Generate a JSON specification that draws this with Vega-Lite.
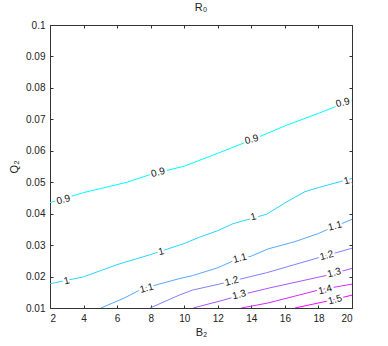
{
  "$schema": "https://vega.github.io/schema/vega-lite/v6.json",
  "width": 302,
  "height": 283,
  "autosize": "none",
  "padding": {"left": 50, "top": 25, "right": 36, "bottom": 38},
  "title": {"text": "R₀", "fontSize": 11, "font": "Liberation Sans", "fontWeight": "normal", "offset": 7, "color": "#222"},
  "config": {
    "font": "Liberation Sans",
    "view": {"stroke": "#333", "strokeWidth": 1},
    "axis": {"grid": false, "domain": false, "tickColor": "#333", "tickSize": -3, "labelColor": "#222", "labelFontSize": 10, "titleFontSize": 11, "titleFontWeight": "normal", "titleColor": "#222", "labelFont": "Liberation Sans", "titleFont": "Liberation Sans"}
  },
  "datasets": {
    "lines": [
      {"lvl": "0.9", "x": 2, "y": 0.0435}, {"lvl": "0.9", "x": 4, "y": 0.0467}, {"lvl": "0.9", "x": 6.6, "y": 0.0500}, {"lvl": "0.9", "x": 8, "y": 0.0525}, {"lvl": "0.9", "x": 10, "y": 0.0551}, {"lvl": "0.9", "x": 12, "y": 0.0592}, {"lvl": "0.9", "x": 14, "y": 0.0634}, {"lvl": "0.9", "x": 16, "y": 0.0679}, {"lvl": "0.9", "x": 18, "y": 0.0719}, {"lvl": "0.9", "x": 20, "y": 0.0761},
      {"lvl": "1", "x": 2, "y": 0.0177}, {"lvl": "1", "x": 4, "y": 0.0199}, {"lvl": "1", "x": 6, "y": 0.0238}, {"lvl": "1", "x": 8, "y": 0.0270}, {"lvl": "1", "x": 10, "y": 0.0305}, {"lvl": "1", "x": 10.9, "y": 0.0325}, {"lvl": "1", "x": 12, "y": 0.0346}, {"lvl": "1", "x": 12.9, "y": 0.0368}, {"lvl": "1", "x": 14.9, "y": 0.0398}, {"lvl": "1", "x": 16, "y": 0.0434}, {"lvl": "1", "x": 17.2, "y": 0.0470}, {"lvl": "1", "x": 18, "y": 0.0483}, {"lvl": "1", "x": 20, "y": 0.0512},
      {"lvl": "1.1", "x": 5.04, "y": 0.0100}, {"lvl": "1.1", "x": 6, "y": 0.0122}, {"lvl": "1.1", "x": 6.4, "y": 0.0131}, {"lvl": "1.1", "x": 7.46, "y": 0.0160}, {"lvl": "1.1", "x": 8.16, "y": 0.0171}, {"lvl": "1.1", "x": 9.75, "y": 0.0194}, {"lvl": "1.1", "x": 10.5, "y": 0.0203}, {"lvl": "1.1", "x": 12, "y": 0.0228}, {"lvl": "1.1", "x": 12.93, "y": 0.0250}, {"lvl": "1.1", "x": 14, "y": 0.0265}, {"lvl": "1.1", "x": 15, "y": 0.0288}, {"lvl": "1.1", "x": 16.6, "y": 0.0311}, {"lvl": "1.1", "x": 18, "y": 0.0337}, {"lvl": "1.1", "x": 18.6, "y": 0.0351}, {"lvl": "1.1", "x": 20, "y": 0.0382},
      {"lvl": "1.2", "x": 7.96, "y": 0.0100}, {"lvl": "1.2", "x": 9.75, "y": 0.0142}, {"lvl": "1.2", "x": 10.5, "y": 0.0157}, {"lvl": "1.2", "x": 12.33, "y": 0.0179}, {"lvl": "1.2", "x": 13.5, "y": 0.0194}, {"lvl": "1.2", "x": 14.9, "y": 0.0212}, {"lvl": "1.2", "x": 18, "y": 0.0260}, {"lvl": "1.2", "x": 20, "y": 0.0290},
      {"lvl": "1.3", "x": 10.54, "y": 0.0100}, {"lvl": "1.3", "x": 12.33, "y": 0.0125}, {"lvl": "1.3", "x": 13.7, "y": 0.0146}, {"lvl": "1.3", "x": 15.1, "y": 0.0164}, {"lvl": "1.3", "x": 18.6, "y": 0.0205}, {"lvl": "1.3", "x": 20, "y": 0.0226},
      {"lvl": "1.4", "x": 13.4, "y": 0.0100}, {"lvl": "1.4", "x": 15, "y": 0.0116}, {"lvl": "1.4", "x": 18, "y": 0.0157}, {"lvl": "1.4", "x": 20, "y": 0.0176},
      {"lvl": "1.5", "x": 16.6, "y": 0.0100}, {"lvl": "1.5", "x": 18.8, "y": 0.0125}, {"lvl": "1.5", "x": 20, "y": 0.0141}
    ],
    "labels": [
      {"lvl": "0.9", "x": 2.8, "y": 0.0444}, {"lvl": "0.9", "x": 8.44, "y": 0.0531}, {"lvl": "0.9", "x": 14.02, "y": 0.0636}, {"lvl": "0.9", "x": 19.45, "y": 0.0753},
      {"lvl": "1", "x": 3.0, "y": 0.0186}, {"lvl": "1", "x": 8.62, "y": 0.0279}, {"lvl": "1", "x": 14.12, "y": 0.0390}, {"lvl": "1", "x": 19.68, "y": 0.0504},
      {"lvl": "1.1", "x": 7.76, "y": 0.0163}, {"lvl": "1.1", "x": 13.32, "y": 0.0258}, {"lvl": "1.1", "x": 18.99, "y": 0.0361},
      {"lvl": "1.2", "x": 12.83, "y": 0.0185}, {"lvl": "1.2", "x": 18.49, "y": 0.0267},
      {"lvl": "1.3", "x": 13.28, "y": 0.0142}, {"lvl": "1.3", "x": 18.94, "y": 0.0212},
      {"lvl": "1.4", "x": 18.4, "y": 0.0158},
      {"lvl": "1.5", "x": 18.99, "y": 0.0126}
    ]
  },
  "layer": [
    {
      "data": {"name": "lines"},
      "mark": {"type": "line", "strokeWidth": 1, "clip": true},
      "encoding": {
        "x": {"field": "x", "type": "quantitative", "scale": {"domain": [2, 20], "nice": false, "zero": false},
              "axis": {"orient": "bottom", "values": [2,4,6,8,10,12,14,16,18,20], "format": "d", "title": "B₂", "labelPadding": 8, "titlePadding": 3}},
        "y": {"field": "y", "type": "quantitative", "scale": {"domain": [0.01, 0.1], "nice": false, "zero": false},
              "axis": {"orient": "left", "values": [0.01,0.02,0.03,0.04,0.05,0.06,0.07,0.08,0.09,0.1], "format": "~g", "title": "Q₂", "labelPadding": 8, "titlePadding": 6}},
        "color": {"field": "lvl", "type": "nominal", "legend": null,
                  "scale": {"domain": ["0.9","1","1.1","1.2","1.3","1.4","1.5"], "range": ["#00ffff","#2bd4ff","#55aaff","#8080ff","#aa55ff","#d42bff","#ff00ff"]}}
      }
    },
    {
      "data": {"name": "labels"},
      "mark": {"type": "text", "angle": -15, "fontSize": 10, "stroke": "white", "strokeWidth": 4, "fill": "white"},
      "encoding": {
        "x": {"field": "x", "type": "quantitative", "axis": {"orient": "top", "values": [2,4,6,8,10,12,14,16,18,20], "labels": false, "title": null}},
        "y": {"field": "y", "type": "quantitative", "axis": {"orient": "right", "values": [0.01,0.02,0.03,0.04,0.05,0.06,0.07,0.08,0.09,0.1], "labels": false, "title": null}},
        "text": {"field": "lvl"}
      }
    },
    {
      "data": {"name": "labels"},
      "mark": {"type": "text", "angle": -15, "fontSize": 10, "fill": "#111"},
      "encoding": {
        "x": {"field": "x", "type": "quantitative", "axis": null},
        "y": {"field": "y", "type": "quantitative", "axis": null},
        "text": {"field": "lvl"}
      }
    }
  ]
}
